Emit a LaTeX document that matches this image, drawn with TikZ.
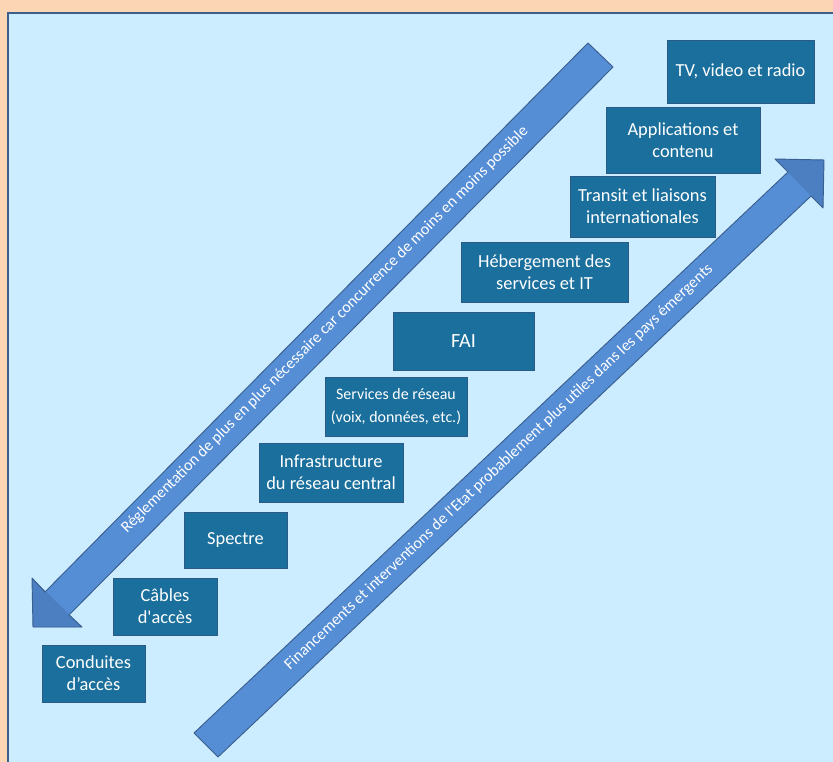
\documentclass[tikz,border=0pt]{standalone}
\usepackage{fontspec}
\setmainfont{Carlito}
\definecolor{peach}{HTML}{FCD5B5}
\definecolor{panel}{HTML}{CCECFF}
\definecolor{paneledge}{HTML}{3B5E8C}
\definecolor{stagefill}{HTML}{1A6F9C}
\definecolor{stageedge}{HTML}{2C5A86}
\definecolor{shaft}{HTML}{558ED5}
\definecolor{head}{HTML}{4B7FC2}
\definecolor{arrowedge}{HTML}{3A5F8E}

\begin{document}
\begin{tikzpicture}[x=0.03cm, y=-0.03cm,
    stage/.style={rectangle, fill=stagefill, draw=stageedge, line width=0.6pt, text=white, align=center, inner sep=0pt, font=\fontsize{15.7}{19}\selectfont},
    banner/.style={text=white, inner sep=0pt, font=\fontsize{13.7}{16}\selectfont},
    arrowline/.style={draw=arrowedge, line width=0.8pt, line join=round}]
    \useasboundingbox (0,0) rectangle (833,762);
    \fill[peach] (0,0) rectangle (833,762);
    \filldraw[fill=panel, draw=paneledge, line width=1.2pt] (8,13) rectangle (845,775);

    % arrow going down to the left
    \fill[shaft] (588,43) -- (613,67) -- (69,615) -- (82,627) -- (33,627) -- (32,578) -- (45,592) -- cycle;
    \fill[head] (32,578) -- (33,627) -- (82,627) -- cycle;
    \draw[arrowline] (588,43) -- (613,67) -- (69,615) -- (82,627) -- (33,627) -- (32,578) -- (45,592) -- cycle;
    \node[banner, rotate=45] (regulation) at (325,330) {Réglementation de plus en plus nécessaire car concurrence de moins en moins possible};

    % arrow going up to the right
    \fill[shaft] (194,733) -- (218,757) -- (811,196) -- (823,208) -- (824,160) -- (775,159) -- (788,172) -- cycle;
    \fill[head] (775,159) -- (824,160) -- (823,208) -- cycle;
    \draw[arrowline] (194,733) -- (218,757) -- (811,196) -- (823,208) -- (824,160) -- (775,159) -- (788,172) -- cycle;
    \node[banner, rotate=43.4] (funding) at (499,467) {Financements et interventions de l\textquotesingle Etat probablement plus utiles dans les pays émergents};

    % the steps
    \node[stage, minimum width=3.09cm, minimum height=1.71cm] (conduites) at (93.5,673.5) {Conduites\\d’accès};
    \node[stage, minimum width=3.12cm, minimum height=1.71cm] (cables) at (165,606.5) {Câbles\\d\textquotesingle accès};
    \node[stage, minimum width=3.09cm, minimum height=1.68cm] (spectre) at (235.5,540) {Spectre};
    \node[stage, minimum width=4.32cm, minimum height=1.77cm] (infra) at (331,472.5) {Infrastructure\\du réseau central};
    \node[stage, minimum width=4.26cm, minimum height=1.77cm, font=\fontsize{13.6}{19}\selectfont] (services) at (396,406.5) {Services de réseau\\(voix, données, etc.)};
    \node[stage, minimum width=4.23cm, minimum height=1.74cm, font=\fontsize{17.2}{20}\selectfont] (fai) at (463.5,341) {FAI};
    \node[stage, minimum width=5.01cm, minimum height=1.80cm] (hebergement) at (544.5,272) {Hébergement des\\services et IT};
    \node[stage, minimum width=4.35cm, minimum height=1.83cm] (transit) at (642.5,206.5) {Transit et liaisons\\internationales};
    \node[stage, minimum width=4.62cm, minimum height=1.98cm] (applications) at (683,140) {Applications et\\contenu};
    \node[stage, minimum width=4.41cm, minimum height=1.89cm] (tv) at (740.5,71.5) {TV, video et radio};
\end{tikzpicture}
\end{document}
